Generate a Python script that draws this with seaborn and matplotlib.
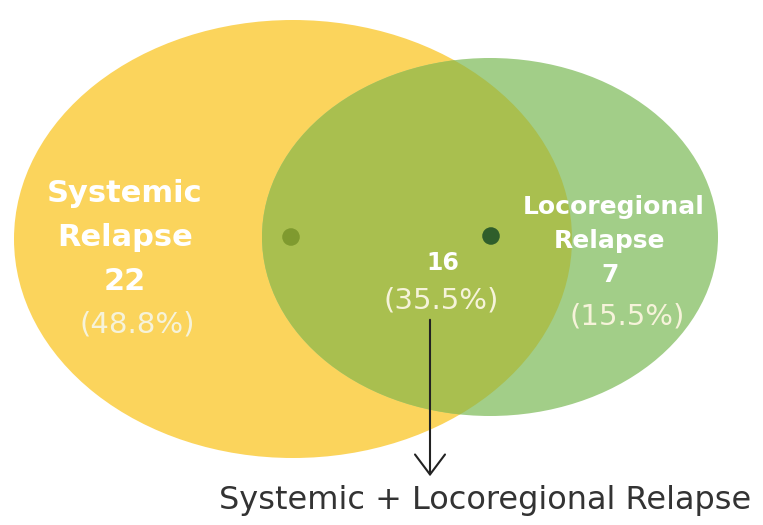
import matplotlib
matplotlib.use("Agg")
import matplotlib.pyplot as plt
from matplotlib.patches import Ellipse
import seaborn as sns

# Venn counts and shares
groups = ["Systemic Relapse", "Both", "Locoregional Relapse"]
counts = [22, 16, 7]
shares = [48.8, 35.5, 15.5]
footer = "Systemic + Locoregional Relapse"

sns.set_theme(style="white")
plt.rcParams["font.family"] = ["DejaVu Sans"]

fig = plt.figure(figsize=(7.63, 5.25), dpi=100)
ax = fig.add_axes([0, 0, 1, 1])
ax.set_xlim(0, 763)
ax.set_ylim(525, 0)
ax.axis("off")

yellow = "#FBD45C"
green = "#A2CE88"
overlap = "#A9BF4F"

sys_ell = Ellipse((293, 239), 558, 438, facecolor=yellow, edgecolor="none", zorder=1)
loc_ell = Ellipse((490, 237), 456, 358, facecolor=green, edgecolor="none", zorder=2)
mid_ell = Ellipse((490, 237), 456, 358, facecolor=overlap, edgecolor="none", zorder=3)
ax.add_patch(sys_ell)
ax.add_patch(loc_ell)
ax.add_patch(mid_ell)
mid_ell.set_clip_path(sys_ell)

# centre markers of each set
ax.scatter([291, 491], [237, 236], s=160, c=["#7F9A2F", "#2F5E2B"], zorder=4, linewidths=0)

bold = dict(color="white", fontweight="bold", ha="center", va="center", zorder=5)
pale = dict(color="#F6F3DA", ha="center", va="center", zorder=5)

ax.text(125, 194, "Systemic", fontsize=22, **bold)
ax.text(125, 238, "Relapse", fontsize=22, **bold)
ax.text(125, 282, str(counts[0]), fontsize=22, **bold)
ax.text(137, 325, f"({shares[0]}%)", fontsize=21, **pale)

ax.text(443, 263, str(counts[1]), fontsize=17, **bold)
ax.text(441, 300, f"({shares[1]}%)", fontsize=21, **pale)

ax.text(614, 207, "Locoregional", fontsize=18, **bold)
ax.text(609, 241, "Relapse", fontsize=18, **bold)
ax.text(610, 275, str(counts[2]), fontsize=18, **bold)
ax.text(627, 316, f"({shares[2]}%)", fontsize=21, **pale)

ax.annotate("", xy=(430, 479), xytext=(430, 317),
            arrowprops=dict(arrowstyle="->,head_length=1.2,head_width=0.9",
                            color="#222222", lw=1.5), zorder=6)

ax.text(485, 500, footer, fontsize=23, color="#333333", ha="center", va="center")

fig.savefig("out.png", dpi=100)
